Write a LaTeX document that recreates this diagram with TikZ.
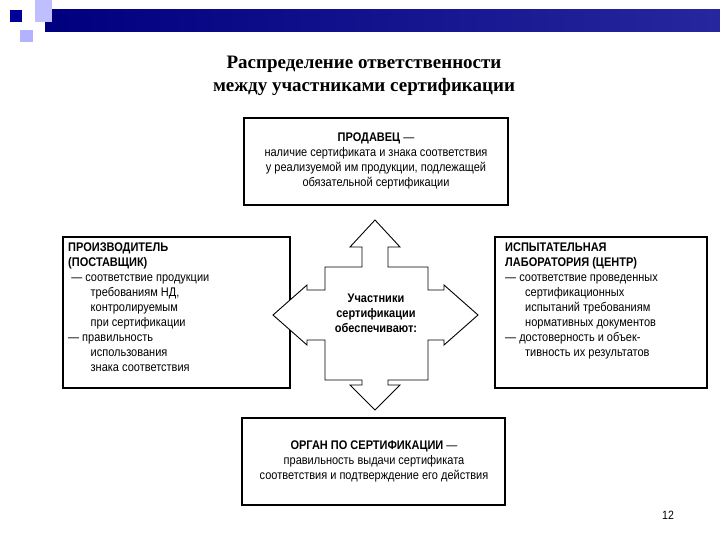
\documentclass[tikz,border=0pt]{standalone}
\usepackage{fontspec}
\setmainfont{Liberation Serif}
\newfontfamily\narrowsf[FakeStretch=0.88]{Liberation Sans}
\begin{document}
\begin{tikzpicture}[x=1pt,y=-1pt,
  box/.style={draw,line width=1.1pt,fill=white},
  txt/.style={font=\narrowsf\fontsize{12.5}{15}\selectfont,align=left,anchor=north west,inner sep=0}]
\useasboundingbox (0,0) rectangle (720,540);
\fill[white] (0,0) rectangle (720,540);
% decoration
\shade[left color=blue!50!black, right color=blue!55!black!85] (45,10) rectangle (720,32);
\fill[blue!25!white] (35,0) rectangle (52,22);
\fill[blue!60!black] (10,10) rectangle (22,22);
\fill[blue!30!white] (20,30) rectangle (33,42);
% title
\node[font=\bfseries\fontsize{19}{23}\selectfont,align=center] (title) at (364,76) {Распределение ответственности\\между участниками сертификации};
% boxes
\draw[box] (244,118) rectangle (508,205);
\node[font=\narrowsf\fontsize{12.5}{15}\selectfont,align=center] (top) at (376,161) {\textbf{ПРОДАВЕЦ} —\\наличие сертификата и знака соответствия\\у реализуемой им продукции, подлежащей\\обязательной сертификации};
\draw[box] (63,237) rectangle (290,388);
\node[txt] (left) at (68,243) {\textbf{ПРОИЗВОДИТЕЛЬ}\\\textbf{(ПОСТАВЩИК)}\\\ — соответствие продукции\\\hspace*{1.8em}требованиям НД,\\\hspace*{1.8em}контролируемым\\\hspace*{1.8em}при сертификации\\— правильность\\\hspace*{1.8em}использования\\\hspace*{1.8em}знака соответствия};
\draw[box] (495,237) rectangle (707,388);
\node[txt] (right) at (505,243) {\textbf{ИСПЫТАТЕЛЬНАЯ}\\\textbf{ЛАБОРАТОРИЯ (ЦЕНТР)}\\— соответствие проведенных\\\hspace*{1.6em}сертификационных\\\hspace*{1.6em}испытаний требованиям\\\hspace*{1.6em}нормативных документов\\— достоверность и объек-\\\hspace*{1.6em}тивность их результатов};
\draw[box] (242,418) rectangle (505,505);
\node[font=\narrowsf\fontsize{12.5}{15}\selectfont,align=center] (bot) at (374,461) {\textbf{ОРГАН ПО СЕРТИФИКАЦИИ} —\\правильность выдачи сертификата\\соответствия и подтверждение его действия};
% cross arrow
\draw[line width=0.9pt,fill=white] (375,220) -- (400,247) -- (388,247) -- (388,267) -- (428,267) -- (428,290)
 -- (444,290) -- (444,285) -- (478,315) -- (444,345) -- (444,340) -- (428,340) -- (428,380) -- (388,380)
 -- (388,385) -- (400,385) -- (375,410) -- (350,385) -- (362,385) -- (362,380) -- (325,380) -- (325,340)
 -- (307,340) -- (307,345) -- (273,315) -- (307,285) -- (307,290) -- (325,290) -- (325,267) -- (362,267)
 -- (362,247) -- (350,247) -- cycle;
\node[font=\narrowsf\bfseries\fontsize{12.5}{15}\selectfont,align=center] (mid) at (376,313) {Участники\\сертификации\\обеспечивают:};
\node[font=\narrowsf\fontsize{12}{14}\selectfont] (num) at (668,515) {12};
\end{tikzpicture}
\end{document}
